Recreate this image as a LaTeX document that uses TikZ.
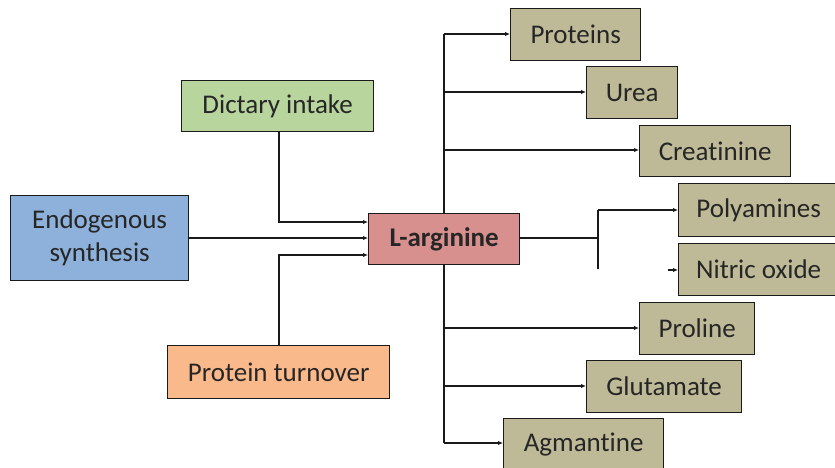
\documentclass[tikz,border=0pt]{standalone}
\usepackage{fontspec}
\setmainfont{Carlito}[Ligatures=NoCommon]
\usetikzlibrary{arrows.meta}
\definecolor{cblue}{HTML}{8DB1DA}
\definecolor{cgreen}{HTML}{B7D59D}
\definecolor{corange}{HTML}{FAB98B}
\definecolor{cpink}{HTML}{D8908F}
\definecolor{ctan}{HTML}{BEB996}
\definecolor{cline}{HTML}{1A1A1A}
\definecolor{ctext}{HTML}{262626}
\tikzset{
  box/.style={draw=cline, line width=1.3pt, inner sep=0pt, anchor=north west, font=\fontsize{27}{33}\selectfont, text=ctext, align=center},
  conn/.style={draw=cline, line width=1.3pt, -{Latex[length=5pt,width=4.5pt]}},
  plain/.style={draw=cline, line width=1.3pt},
}
\begin{document}
\begin{tikzpicture}[x=1pt,y=-1pt]
\useasboundingbox (0,0) rectangle (835,468);
\newcommand{\bx}[7]{\node[box, fill=#2, minimum width=#5pt, minimum height=#6pt] (#1) at (#3,#4) {#7};}
\bx{endo}{cblue}{10}{195}{178}{85}{Endogenous\\synthesis}
\bx{diet}{cgreen}{181}{80}{192}{51}{Dictary intake}
\bx{turn}{corange}{167}{345}{222}{53}{Protein turnover}
\bx{arg}{cpink}{368}{213}{151}{51}{\textbf{L-arginine}}
\bx{prot}{ctan}{510}{8}{130}{52}{Proteins}
\bx{urea}{ctan}{586}{66}{91}{52}{Urea}
\bx{crea}{ctan}{639}{125}{151}{51}{Creatinine}
\bx{poly}{ctan}{678}{183}{160}{53}{Polyamines}
\bx{nitr}{ctan}{678}{243}{160}{52}{Nitric oxide}
\bx{prol}{ctan}{639}{302}{115}{52}{Proline}
\bx{glut}{ctan}{586}{360}{155}{52}{Glutamate}
\bx{agm}{ctan}{503}{418}{160}{52}{Agmantine}
% inputs
\coordinate (dk) at (279,222);
\coordinate (tk) at (279,255);
\draw[conn] (diet.south -| dk) |- (dk) -- (dk -| arg.west);
\draw[conn] (endo.east |- 0,238) -- (arg.west |- 0,238);
\draw[conn] (turn.north -| tk) |- (tk) -- (tk -| arg.west);
% trunk
\coordinate (tx) at (444,0);
\coordinate (ttop) at (444,34);
\coordinate (tbot) at (444,443);
\draw[plain] (arg.north -| tx) -- (ttop);
\draw[plain] (arg.south -| tx) -- (tbot);
\draw[conn] (ttop) -- (prot.west |- ttop);
\draw[conn] (444,92) -- (urea.west |- 0,92);
\draw[conn] (444,150) -- (crea.west |- 0,150);
\draw[conn] (444,328) -- (prol.west |- 0,328);
\draw[conn] (444,386) -- (glut.west |- 0,386);
\draw[conn] (tbot) -- (agm.west |- tbot);
% right fork
\coordinate (fk) at (598,238);
\coordinate (ftop) at (598,210);
\coordinate (fbot) at (598,269);
\draw[plain] (arg.east |- fk) -- (fk);
\draw[plain] (ftop) -- (fbot);
\draw[conn] (ftop) -- (poly.west |- ftop);
\coordinate (nstub) at (668,270);
\draw[conn] (nstub) -- (nitr.west |- nstub);
\end{tikzpicture}
\end{document}
